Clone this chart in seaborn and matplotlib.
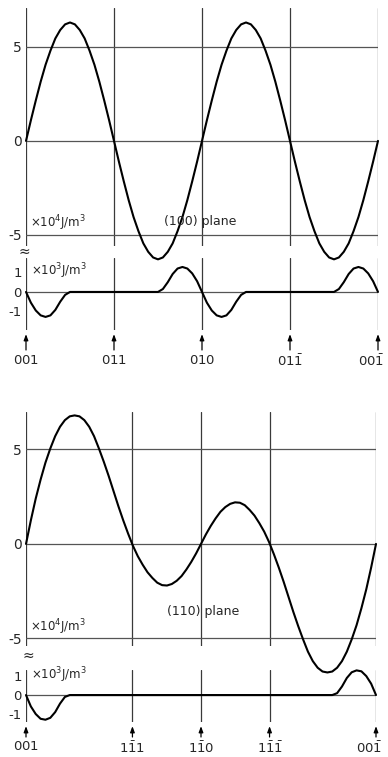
import numpy as np
import matplotlib
matplotlib.use("Agg")
import matplotlib.pyplot as plt
import matplotlib.transforms as mtransforms
import seaborn as sns

sns.set_style("white")
plt.rcParams['font.family'] = ['DejaVu Sans']

# ---------------- data ----------------
# angle from [001] (degrees), sampling grid of the read-off curves
theta = np.arange(0, 180.01, 2.5)

# (100) plane, main curve, x10^4 J/m^3
e100_main = [0, 1.1, 2.15, 3.15, 4.05, 4.8, 5.45, 5.9, 6.2, 6.3, 6.2, 5.9, 5.45, 4.8, 4.05, 3.15, 2.15, 1.1,
             0, -1.1, -2.15, -3.15, -4.05, -4.8, -5.45, -5.9, -6.2, -6.3, -6.2, -5.9, -5.45, -4.8, -4.05, -3.15, -2.15, -1.1,
             0, 1.1, 2.15, 3.15, 4.05, 4.8, 5.45, 5.9, 6.2, 6.3, 6.2, 5.9, 5.45, 4.8, 4.05, 3.15, 2.15, 1.1,
             0, -1.1, -2.15, -3.15, -4.05, -4.8, -5.45, -5.9, -6.2, -6.3, -6.2, -5.9, -5.45, -4.8, -4.05, -3.15, -2.15, -1.1, 0]

# (100) plane, small curve, x10^3 J/m^3
e100_small = ([0, -0.55, -0.95, -1.2, -1.28, -1.2, -0.92, -0.5, -0.15]
              + [0] * 19
              + [0.15, 0.5, 0.92, 1.2, 1.28, 1.2, 0.95, 0.55, 0]
              + [-0.55, -0.95, -1.2, -1.28, -1.2, -0.92, -0.5, -0.15]
              + [0] * 19
              + [0.15, 0.5, 0.92, 1.2, 1.28, 1.2, 0.95, 0.55, 0])

# (110) plane, main curve, x10^4 J/m^3
e110_main = [0, 1.25, 2.4, 3.4, 4.3, 5.05, 5.7, 6.2, 6.55, 6.75, 6.8, 6.75, 6.55, 6.2, 5.7, 5.05, 4.35, 3.6,
             2.8, 2.0, 1.25, 0.55, -0.1, -0.65, -1.1, -1.5, -1.8, -2.05, -2.18, -2.2, -2.12, -1.95, -1.7, -1.35,
             -0.95, -0.5, 0, 0.5, 0.95, 1.35, 1.7, 1.95, 2.12, 2.2, 2.18, 2.05, 1.8, 1.5, 1.1, 0.65, 0.1,
             -0.55, -1.25, -2.0, -2.8, -3.6, -4.35, -5.05, -5.7, -6.2, -6.55, -6.75, -6.8, -6.75, -6.55, -6.2,
             -5.7, -5.05, -4.3, -3.4, -2.4, -1.25, 0]

# (110) plane, small curve, x10^3 J/m^3
e110_small = ([0, -0.6, -1.0, -1.25, -1.3, -1.2, -0.9, -0.45, -0.1]
              + [0] * 55
              + [0.1, 0.45, 0.9, 1.2, 1.3, 1.25, 1.0, 0.6, 0])

# crystal directions marked along the axis
dirs100 = [0, 45, 90, 135, 180]
labels100 = [r"$\mathregular{001}$", r"$\mathregular{011}$", r"$\mathregular{010}$",
             r"$\mathregular{01\bar{1}}$", r"$\mathregular{00\bar{1}}$"]
dirs110 = [0, 54.74, 90, 125.26, 180]
labels110 = [r"$\mathregular{001}$", r"$\mathregular{1\bar{1}1}$", r"$\mathregular{1\bar{1}0}$",
             r"$\mathregular{1\bar{1}\bar{1}}$", r"$\mathregular{00\bar{1}}$"]

main_ticks = [5, 0, -5]
main_ticklabels = ["5", "0", "-5"]
small_ticks = [1, 0, -1]
small_ticklabels = ["1", "0", "-1"]

# ---------------- figure ----------------
W, H = 388, 757
fig = plt.figure(figsize=(W / 100, H / 100), dpi=100)


def add_ax(l, t, r, b):
    return fig.add_axes([l / W, 1 - b / H, (r - l) / W, (b - t) / H])


ax1 = add_ax(26, 8, 378, 246)
ax2 = add_ax(26, 258, 378, 330)
ax3 = add_ax(26, 412, 376, 646)
ax4 = add_ax(26, 670, 376, 722)

LC = "#3a3a3a"


def style_axis(ax, dirs, ylim, ticks, ticklabels, hlines, small):
    ax.set_xlim(0, 180)
    ax.set_ylim(*ylim)
    for s in ax.spines.values():
        s.set_visible(False)
    for d in dirs:
        ax.axvline(d, color=LC, lw=0.9, zorder=1)
    for h in hlines:
        ax.axhline(h, color="#555555", lw=0.9, zorder=1)
    ax.set_yticks(ticks)
    ax.set_yticklabels(ticklabels)
    if small:
        ax.tick_params(axis="y", direction="in", length=4, width=0.9, color=LC, pad=3, labelsize=9.5)
    else:
        ax.tick_params(axis="y", length=0, pad=3, labelsize=10)
    ax.set_xlabel("")
    ax.set_ylabel("")
    ax.patch.set_alpha(0)


def draw_panel(ax_main, ax_small, dirs, labels, main_vals, small_vals, main_ylim, small_ylim,
               plane_text, plane_xy, label_pad, arrow_len):
    sns.lineplot(x=theta, y=main_vals, ax=ax_main, color="black", lw=1.5, zorder=3, clip_on=False)
    sns.lineplot(x=theta, y=small_vals, ax=ax_small, color="black", lw=1.5, zorder=3, clip_on=False)
    style_axis(ax_main, dirs, main_ylim, main_ticks, main_ticklabels, main_ticks, False)
    style_axis(ax_small, dirs, small_ylim, small_ticks, small_ticklabels, [0], True)
    ax_main.set_xticks([])
    ax_small.set_xticks(dirs)
    ax_small.set_xticklabels(labels)
    ax_small.tick_params(axis="x", length=0, pad=label_pad, labelsize=9.5)
    last = ax_small.get_xticklabels()[-1]
    last.set_transform(last.get_transform() + mtransforms.ScaledTranslation(-7 / 100, 0, fig.dpi_scale_trans))
    ax_main.text(2.2, -4.9, r"$\mathregular{\times 10^4 J/m^3}$", fontsize=8.5, ha="left", va="bottom")
    ax_small.text(2.6, 1.05, r"$\mathregular{\times 10^3 J/m^3}$", fontsize=8.5, ha="left", va="center")
    ax_main.text(plane_xy[0], plane_xy[1], plane_text, fontsize=9, ha="left", va="center")
    for d in dirs:
        ax_small.annotate("", xy=(d, 0), xycoords=ax_small.get_xaxis_transform(),
                          xytext=(0, -arrow_len), textcoords="offset pixels",
                          arrowprops=dict(arrowstyle="-|>,head_length=0.35,head_width=0.13",
                                          color="black", lw=0.9, shrinkA=0, shrinkB=3))


draw_panel(ax1, ax2, dirs100, labels100, e100_main, e100_small,
           (-5.59, 7.07), (-1.95, 1.74), "(100) plane", (70.5, -4.3), 17, 20)
draw_panel(ax3, ax4, dirs110, labels110, e110_main, e110_small,
           (-5.4, 6.98), (-1.42, 1.32), "(110) plane", (72.5, -3.55), 13, 15)

fig.text(24 / W, 1 - 252 / H, "≈", fontsize=10, ha="center", va="center")
fig.text(28 / W, 1 - 656 / H, "≈", fontsize=10, ha="center", va="center")

fig.savefig("out.png", dpi=100)
